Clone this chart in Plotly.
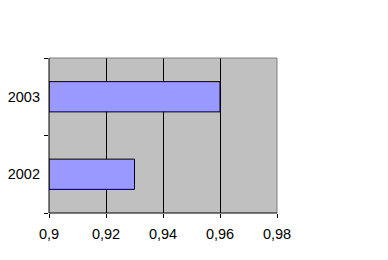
import plotly.graph_objects as go

years = ["2002", "2003"]
values = [0.93, 0.96]
x_ticks = [0.9, 0.92, 0.94, 0.96, 0.98]
x_tick_labels = ["0,9", "0,92", "0,94", "0,96", "0,98"]
base_value = 0.9

fig = go.Figure()
fig.add_trace(go.Bar(
    y=years, x=[v - base_value for v in values], base=base_value, orientation="h",
    marker=dict(color="#9999FF", line=dict(color="#000000", width=1)),
))

fig.update_layout(
    width=388, height=260,
    margin=dict(l=49, r=111, t=58, b=47),
    paper_bgcolor="white", plot_bgcolor="#C0C0C0",
    font=dict(family="Liberation Sans, Arial", size=14.5, color="black"),
    bargap=0.61, showlegend=False,
    xaxis=dict(range=[0.9, 0.98], tickvals=x_ticks, ticktext=x_tick_labels,
               showgrid=True, gridcolor="black", gridwidth=1,
               showline=False, automargin=False,
               ticks="outside", ticklen=4, tickcolor="black", zeroline=False,
               ticklabelstandoff=4, fixedrange=True),
    yaxis=dict(type="category", categoryorder="array", categoryarray=years,
               range=[-0.5, 1.5], showgrid=False,
               showline=False, automargin=False,
               ticks="outside", ticklen=4, tickcolor="black", tickson="boundaries",
               ticklabelstandoff=8, fixedrange=True),
)
fig.add_shape(type="line", xref="paper", yref="paper", x0=0, x1=1, y0=1, y1=1,
              line=dict(color="#808080", width=1))
fig.add_shape(type="line", xref="paper", yref="paper", x0=1, x1=1, y0=0, y1=1,
              line=dict(color="#808080", width=1))
fig.add_shape(type="line", xref="paper", yref="paper", x0=0, x1=1, y0=0, y1=0,
              line=dict(color="black", width=1))
fig.add_shape(type="line", xref="paper", yref="paper", x0=0, x1=0, y0=0, y1=1,
              line=dict(color="black", width=1))
fig.write_html("out.html")
